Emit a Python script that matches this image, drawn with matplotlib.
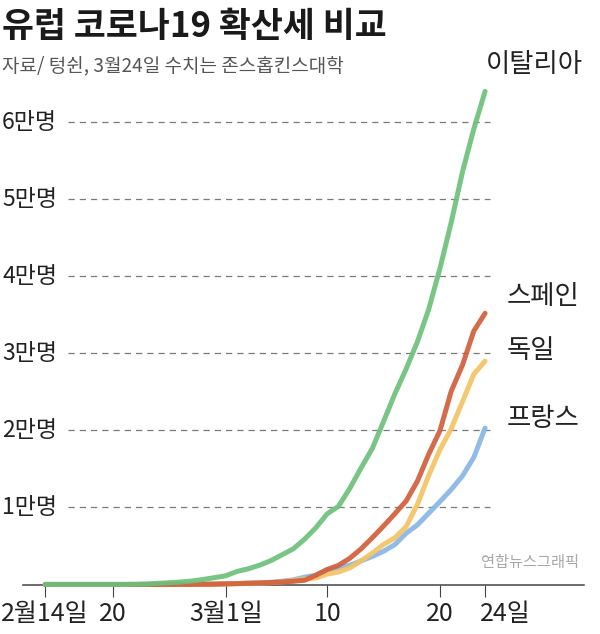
import matplotlib
matplotlib.use('Agg')
import matplotlib.pyplot as plt
from matplotlib.transforms import ScaledTranslation

plt.rcParams['font.family'] = ['Noto Sans CJK KR', 'DejaVu Sans']

# days counted from Feb 14 (0) to Mar 24 (39)
days = list(range(40))

italy = [3, 3, 3, 3, 3, 3, 3, 3, 20, 62, 155, 229, 322, 453, 655, 888,
         1128, 1694, 2036, 2502, 3089, 3858, 4636, 5883, 7375, 9172, 10149,
         12462, 15113, 17660, 21157, 24747, 27980, 31506, 35713, 41035,
         47021, 53578, 59138, 64000]
spain = [2, 2, 2, 2, 2, 2, 2, 2, 2, 2, 2, 6, 13, 15, 30, 45,
         80, 110, 150, 200, 250, 330, 420, 550, 1200, 1950, 2480,
         3400, 4620, 6070, 7590, 9180, 10840, 13420, 16900, 19970,
         25100, 28500, 32900, 35200]
germany = [16, 16, 16, 16, 16, 16, 16, 16, 16, 16, 16, 16, 18, 21, 26, 53,
           66, 117, 150, 188, 240, 349, 534, 684, 847, 1350, 1620,
           2150, 3070, 4090, 5200, 6060, 7510, 10400, 14150, 17500,
           20240, 23750, 27300, 29000]
france = [12, 12, 12, 12, 12, 12, 12, 12, 12, 12, 12, 12, 14, 18, 38, 57,
          100, 130, 191, 212, 285, 423, 613, 949, 1209, 1850, 2150,
          2500, 3050, 3640, 4310, 5180, 6650, 7730, 9250, 10760,
          12330, 14100, 16500, 20300]

tick_days = [0, 6, 16, 25, 35, 39]
tick_labels = ['2월14일', '20', '3월1일', '10', '20', '24일']
grid_values = [10000, 20000, 30000, 40000, 50000, 60000]
grid_labels = ['1만명', '2만명', '3만명', '4만명', '5만명', '6만명']

W, H = 600, 634
fig = plt.figure(figsize=(W / 100, H / 100), dpi=100)
ax = fig.add_axes([23 / W, (H - 584.5) / H, 561 / W, 523.9 / H])
ax.set_xlim(-1.97, 47.77)
ax.set_ylim(0, 68000)

ax.hlines(grid_values, 2.0, 39.4, colors='#7a7a7a', linewidth=0.9,
          linestyles=(0, (5, 4)), zorder=1)
for v, lab in zip(grid_values, grid_labels):
    ax.text(1.05, v, lab, ha='right', va='center', fontsize=16.5, color='#222222')

lw = 3.6
ax.plot(days, france, color='#89b7e4', lw=lw, alpha=0.92, solid_capstyle='round', clip_on=False, zorder=3)
ax.plot(days, germany, color='#f4c464', lw=lw, alpha=0.92, solid_capstyle='round', clip_on=False, zorder=4)
ax.plot(days, spain, color='#d15f3c', lw=lw, alpha=0.92, solid_capstyle='round', clip_on=False, zorder=5)
ax.plot(days, italy, color='#6cc07c', lw=lw, alpha=0.92, solid_capstyle='round', clip_on=False, zorder=6)

for s in ['top', 'right', 'left']:
    ax.spines[s].set_visible(False)
ax.spines['bottom'].set_color('#444444')
ax.spines['bottom'].set_linewidth(1.1)
ax.set_yticks([])
ax.set_xticks(tick_days)
ax.set_xticklabels(tick_labels, fontsize=18, color='#222222')
ax.tick_params(axis='x', direction='out', length=8.6, width=0.8, color='#444444', pad=3.5)
last = ax.get_xticklabels()[-1]
last.set_ha('left')
last.set_transform(last.get_transform() + ScaledTranslation(-5 / 100, 0, fig.dpi_scale_trans))

fig.text(2 / W, 1 - 26 / H, '유럽 코로나19 확산세 비교', fontsize=25, fontweight='bold',
         color='#1a1a1a', va='center', ha='left')
fig.text(2 / W, 1 - 66 / H, '자료/ 텅쉰, 3월24일 수치는 존스홉킨스대학', fontsize=13.7,
         color='#555555', va='center', ha='left')

for name, x, y in [('이탈리아', 486, 65), ('스페인', 507, 297), ('독일', 507, 350), ('프랑스', 507, 418)]:
    fig.text(x / W, 1 - y / H, name, fontsize=19, color='#222222', va='center', ha='left')

fig.text(579 / W, 1 - 563 / H, '연합뉴스그래픽', fontsize=11, color='#a8a8a8', va='center', ha='right')

fig.savefig('out.png', dpi=100)
